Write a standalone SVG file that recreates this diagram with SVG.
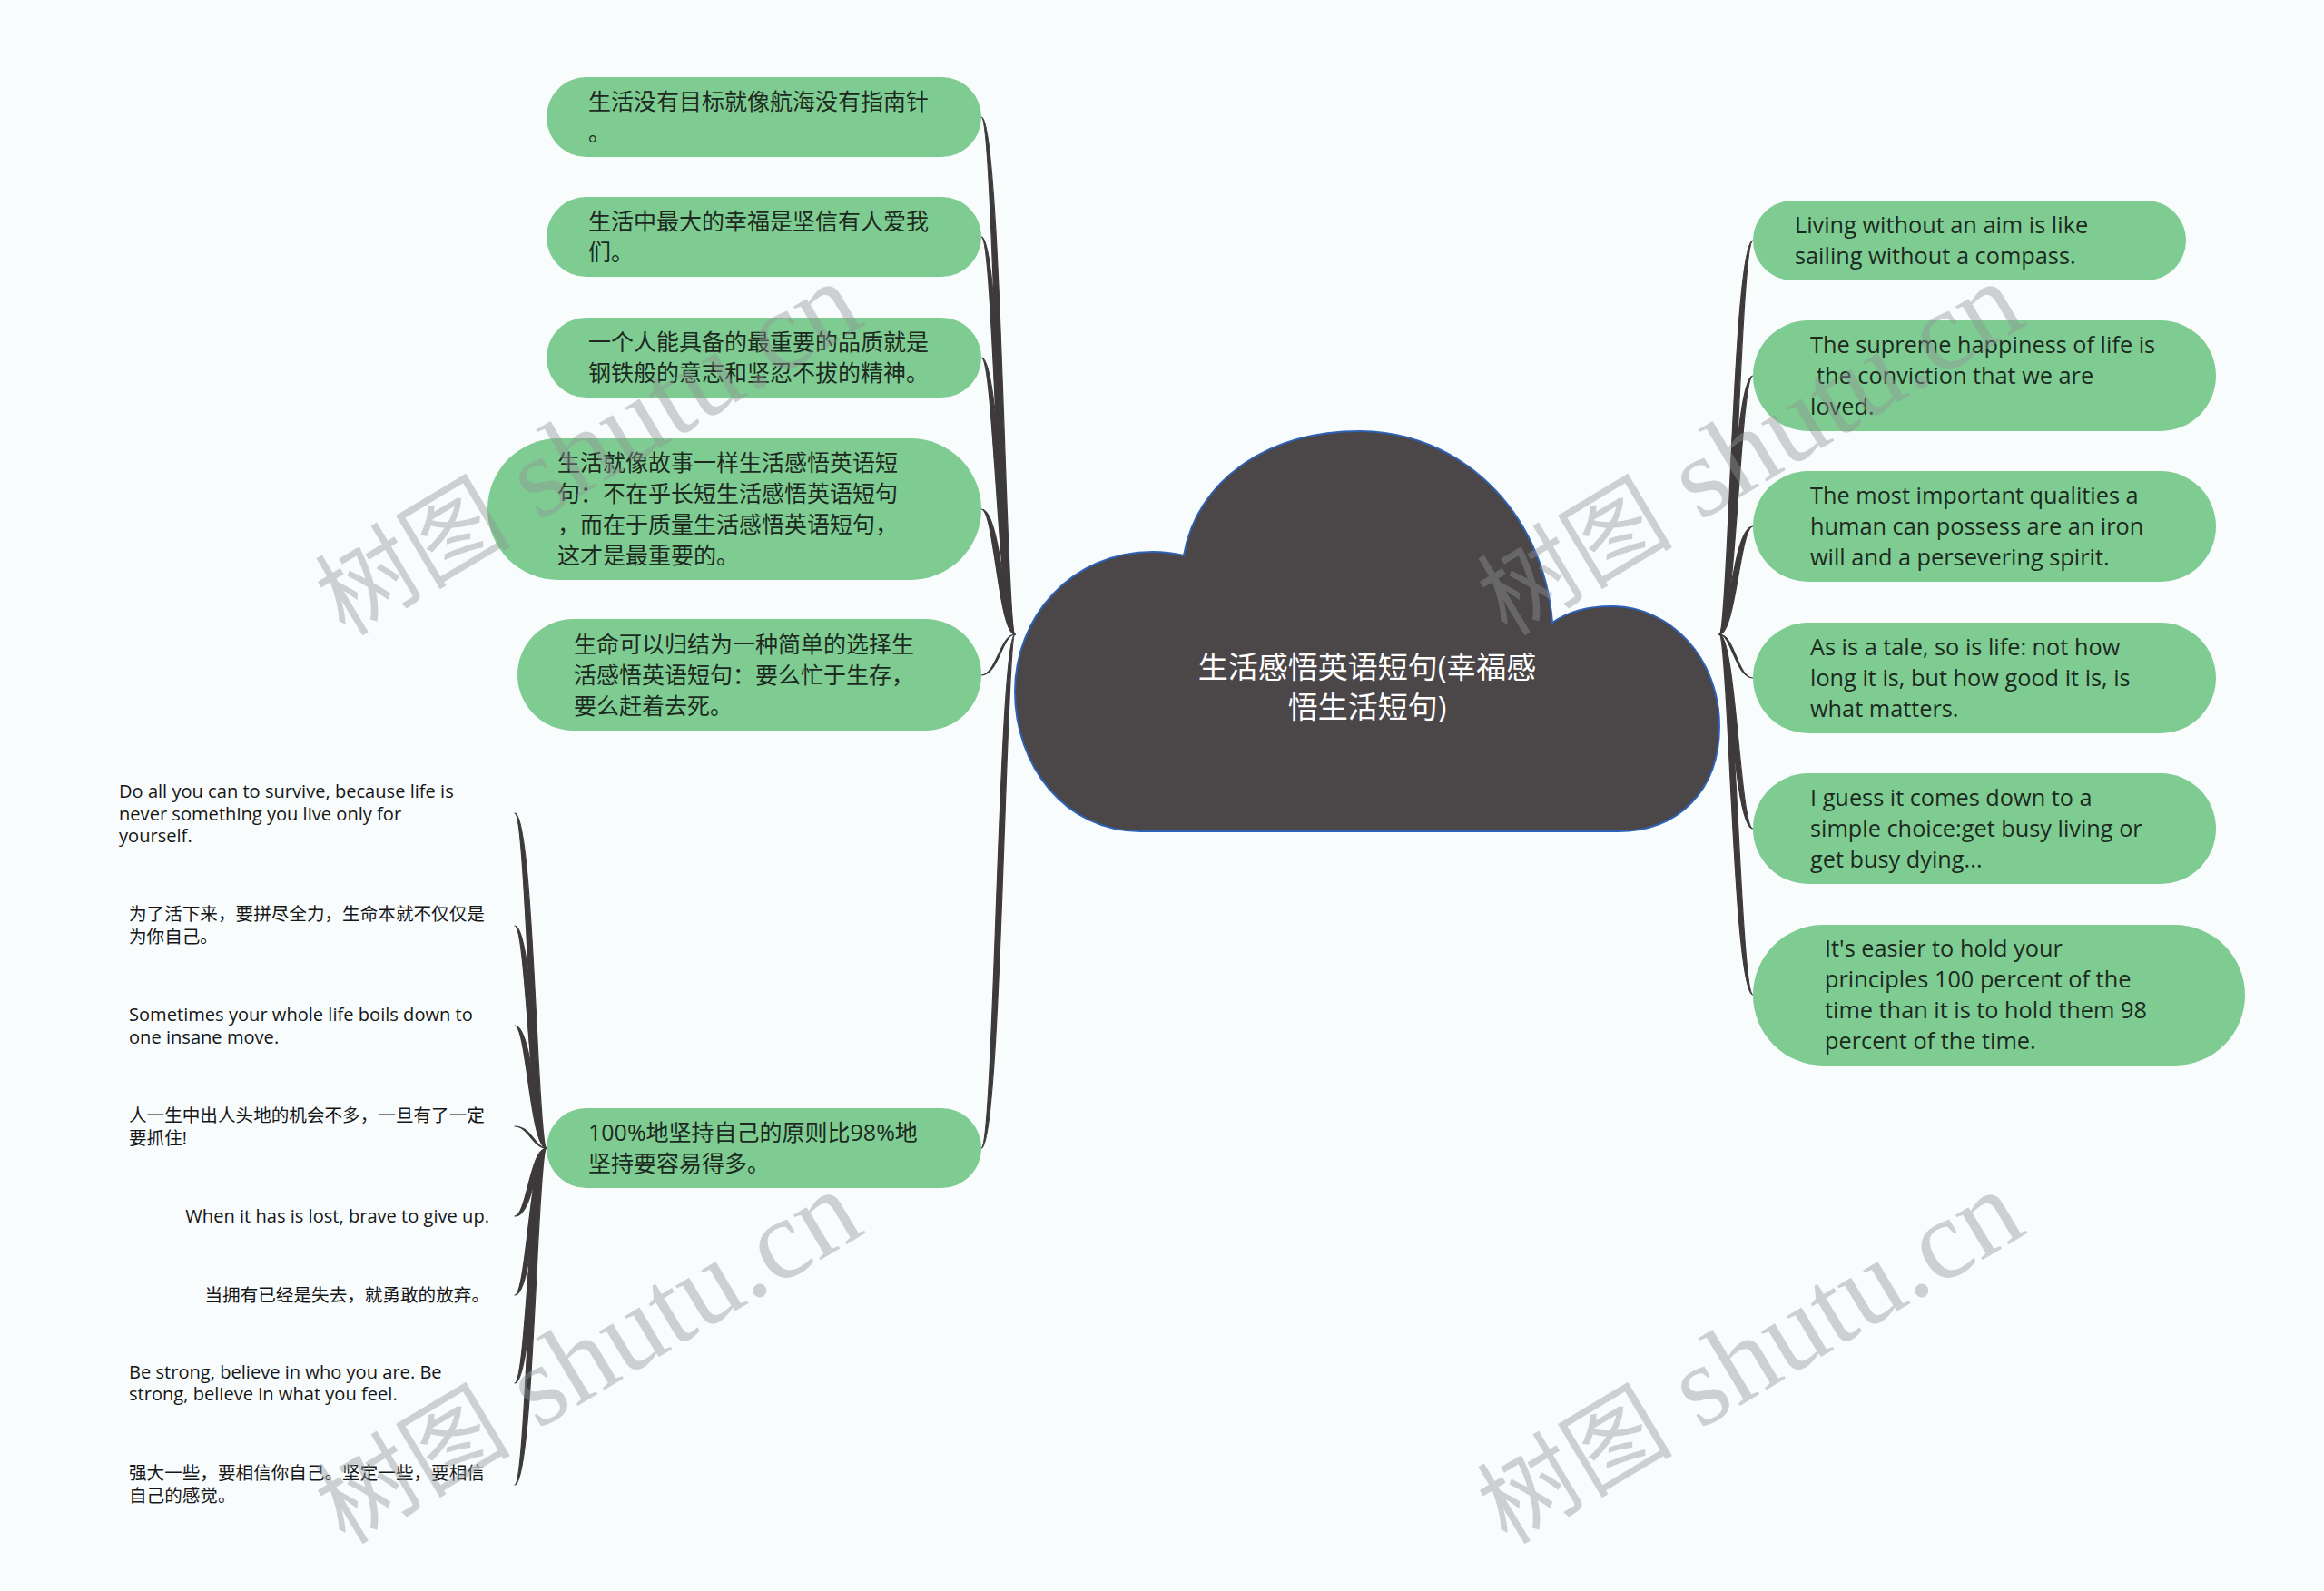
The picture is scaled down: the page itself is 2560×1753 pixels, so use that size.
<svg xmlns="http://www.w3.org/2000/svg" width="2560" height="1753" viewBox="0 0 2560 1753">
<style>
.bg{fill:#f8fcfd}
.pill{fill:#7fcc92}
.t{font-family:"Open Sans","Noto Sans CJK SC",sans-serif;font-size:25px;fill:#1c2a1f}
.en{font-size:25.3px}
.leaf{font-family:"Open Sans","Noto Sans CJK SC",sans-serif;font-size:19.6px;fill:#161616}
.le{font-size:20.1px}
.ct{font-family:"Open Sans","Noto Sans CJK SC",sans-serif;font-size:33px;fill:#ffffff;text-anchor:middle}
.conn path{fill:#3e3a3b;stroke:#3e3a3b;stroke-width:1.2;stroke-linejoin:round}
.wm{font-family:"Liberation Serif","Noto Sans CJK SC",serif;font-size:126px;fill:#8e9496;fill-opacity:0.42}
.wmc{font-size:108px}
</style>
<rect class="bg" x="0" y="0" width="2560" height="1753"/>

<g id="connectors" class="conn">
  <path d="M1081,129 C1103,129 1108,699 1118,699 C1100,699 1095,129 1081,129 Z"/>
  <path d="M1081,261 C1103,261 1108,699 1118,699 C1100,699 1095,261 1081,261 Z"/>
  <path d="M1081,394 C1103,394 1108,699 1118,699 C1100,699 1095,394 1081,394 Z"/>
  <path d="M1081,561 C1103,561 1108,699 1118,699 C1100,699 1095,561 1081,561 Z"/>
  <path d="M1081,744 C1100,744 1104,699 1118,699 C1102,699 1097,744 1081,744 Z"/>
  <path d="M1081,1265 C1103,1265 1108,699 1118,699 C1100,699 1095,1265 1081,1265 Z"/>
  <path d="M1894,699 C1912,699 1917,265 1931,265 C1909,265 1904,699 1894,699 Z"/>
  <path d="M1894,699 C1912,699 1917,414 1931,414 C1909,414 1904,699 1894,699 Z"/>
  <path d="M1894,699 C1912,699 1917,580 1931,580 C1909,580 1904,699 1894,699 Z"/>
  <path d="M1894,699 C1911,699 1914,747 1931,747 C1912,747 1907,699 1894,699 Z"/>
  <path d="M1894,699 C1912,699 1917,913 1931,913 C1909,913 1904,699 1894,699 Z"/>
  <path d="M1894,699 C1912,699 1917,1096 1931,1096 C1909,1096 1904,699 1894,699 Z"/>
  <path d="M602,1265 C592,1265 588,896 567,896 C580,896 584,1265 602,1265 Z"/>
  <path d="M602,1265 C592,1265 588,1020 567,1020 C580,1020 584,1265 602,1265 Z"/>
  <path d="M602,1265 C592,1265 588,1130 567,1130 C580,1130 584,1265 602,1265 Z"/>
  <path d="M602,1265 C589,1265 586,1241 567,1241 C582,1241 587,1265 602,1265 Z"/>
  <path d="M602,1265 C592,1265 588,1340 567,1340 C580,1340 584,1265 602,1265 Z"/>
  <path d="M602,1265 C592,1265 588,1427 567,1427 C580,1427 584,1265 602,1265 Z"/>
  <path d="M602,1265 C592,1265 588,1524 567,1524 C580,1524 584,1265 602,1265 Z"/>
  <path d="M602,1265 C592,1265 588,1636 567,1636 C580,1636 584,1265 602,1265 Z"/>
</g>

<g id="center">
  <path d="M1304,612 C1318,530 1395,475 1498,475 C1605,475 1700,560 1710,686 C1730,672 1752,668 1775,668 C1840,668 1894,725 1894,800 C1894,870 1850,916 1782,916 L1256,916 C1172,916 1118,842 1118,762 C1118,680 1180,608 1270,608 C1285,608 1295,610 1304,612 Z" fill="#4b4647" stroke="#2f62b5" stroke-width="2"/>
  <text class="ct" x="1506" y="747">生活感悟英语短句(幸福感</text>
  <text class="ct" x="1506" y="791">悟生活短句)</text>
</g>

<g id="L1"><rect class="pill" x="602" y="85" width="479" height="88" rx="44"/>
  <text class="t" x="648" y="120.5">生活没有目标就像航海没有指南针</text>
  <text class="t" x="648" y="154.5">。</text></g>
<g id="L2"><rect class="pill" x="602" y="217" width="479" height="88" rx="44"/>
  <text class="t" x="648" y="252.5">生活中最大的幸福是坚信有人爱我</text>
  <text class="t" x="648" y="286.5">们。</text></g>
<g id="L3"><rect class="pill" x="602" y="350" width="479" height="88" rx="44"/>
  <text class="t" x="648" y="385.5">一个人能具备的最重要的品质就是</text>
  <text class="t" x="648" y="419.5">钢铁般的意志和坚忍不拔的精神。</text></g>
<g id="L4"><rect class="pill" x="537" y="483" width="544" height="156" rx="78"/>
  <text class="t" x="614" y="518.5">生活就像故事一样生活感悟英语短</text>
  <text class="t" x="614" y="552.5">句：不在乎长短生活感悟英语短句</text>
  <text class="t" x="614" y="586.5">，而在于质量生活感悟英语短句，</text>
  <text class="t" x="614" y="620.5">这才是最重要的。</text></g>
<g id="L5"><rect class="pill" x="570" y="682" width="511" height="123" rx="61.5"/>
  <text class="t" x="632" y="718.5">生命可以归结为一种简单的选择生</text>
  <text class="t" x="632" y="752.5">活感悟英语短句：要么忙于生存，</text>
  <text class="t" x="632" y="786.5">要么赶着去死。</text></g>
<g id="L6"><rect class="pill" x="602" y="1221" width="479" height="88" rx="44"/>
  <text class="t" x="648" y="1256.5">100%地坚持自己的原则比98%地</text>
  <text class="t" x="648" y="1290.5">坚持要容易得多。</text></g>

<g id="R1"><rect class="pill" x="1931" y="221" width="477" height="88" rx="44"/>
  <text class="t en" x="1977" y="256.5">Living without an aim is like</text>
  <text class="t en" x="1977" y="290.5">sailing without a compass.</text></g>
<g id="R2"><rect class="pill" x="1931" y="353" width="510" height="122" rx="61"/>
  <text class="t en" x="1994" y="388.5">The supreme happiness of life is</text>
  <text class="t en" x="2001" y="422.5">the conviction that we are</text>
  <text class="t en" x="1994" y="456.5">loved.</text></g>
<g id="R3"><rect class="pill" x="1931" y="519" width="510" height="122" rx="61"/>
  <text class="t en" x="1994" y="554.5">The most important qualities a</text>
  <text class="t en" x="1994" y="588.5">human can possess are an iron</text>
  <text class="t en" x="1994" y="622.5">will and a persevering spirit.</text></g>
<g id="R4"><rect class="pill" x="1931" y="686" width="510" height="122" rx="61"/>
  <text class="t en" x="1994" y="721.5">As is a tale, so is life: not how</text>
  <text class="t en" x="1994" y="755.5">long it is, but how good it is, is</text>
  <text class="t en" x="1994" y="789.5">what matters.</text></g>
<g id="R5"><rect class="pill" x="1931" y="852" width="510" height="122" rx="61"/>
  <text class="t en" x="1994" y="887.5">I guess it comes down to a</text>
  <text class="t en" x="1994" y="921.5">simple choice:get busy living or</text>
  <text class="t en" x="1994" y="955.5">get busy dying...</text></g>
<g id="R6"><rect class="pill" x="1931" y="1019" width="542" height="155" rx="77.5"/>
  <text class="t en" x="2010" y="1053.5">It's easier to hold your</text>
  <text class="t en" x="2010" y="1087.5">principles 100 percent of the</text>
  <text class="t en" x="2010" y="1121.5">time than it is to hold them 98</text>
  <text class="t en" x="2010" y="1155.5">percent of the time.</text></g>

<g id="S1">
  <text class="leaf le" x="131" y="879">Do all you can to survive, because life is</text>
  <text class="leaf le" x="131" y="903.5">never something you live only for</text>
  <text class="leaf le" x="131" y="928">yourself.</text></g>
<g id="S2">
  <text class="leaf" x="142" y="1014">为了活下来，要拼尽全力，生命本就不仅仅是</text>
  <text class="leaf" x="142" y="1039">为你自己。</text></g>
<g id="S3">
  <text class="leaf le" x="142" y="1125">Sometimes your whole life boils down to</text>
  <text class="leaf le" x="142" y="1150">one insane move.</text></g>
<g id="S4">
  <text class="leaf" x="142" y="1236">人一生中出人头地的机会不多，一旦有了一定</text>
  <text class="leaf" x="142" y="1261">要抓住!</text></g>
<g id="S5">
  <text class="leaf le" x="539" y="1347" text-anchor="end">When it has is lost, brave to give up.</text></g>
<g id="S6">
  <text class="leaf" x="539" y="1434" text-anchor="end">当拥有已经是失去，就勇敢的放弃。</text></g>
<g id="S7">
  <text class="leaf le" x="142" y="1519">Be strong, believe in who you are. Be</text>
  <text class="leaf le" x="142" y="1543">strong, believe in what you feel.</text></g>
<g id="S8">
  <text class="leaf" x="142" y="1630">强大一些，要相信你自己。坚定一些，要相信</text>
  <text class="leaf" x="142" y="1655">自己的感觉。</text></g>

<g id="watermarks">
  <text class="wm" transform="translate(380,702) rotate(-31)"><tspan class="wmc">树图</tspan> shutu.cn</text>
  <text class="wm" transform="translate(1660,702) rotate(-31)"><tspan class="wmc">树图</tspan> shutu.cn</text>
  <text class="wm" transform="translate(380,1703) rotate(-31)"><tspan class="wmc">树图</tspan> shutu.cn</text>
  <text class="wm" transform="translate(1660,1703) rotate(-31)"><tspan class="wmc">树图</tspan> shutu.cn</text>
</g>
</svg>
